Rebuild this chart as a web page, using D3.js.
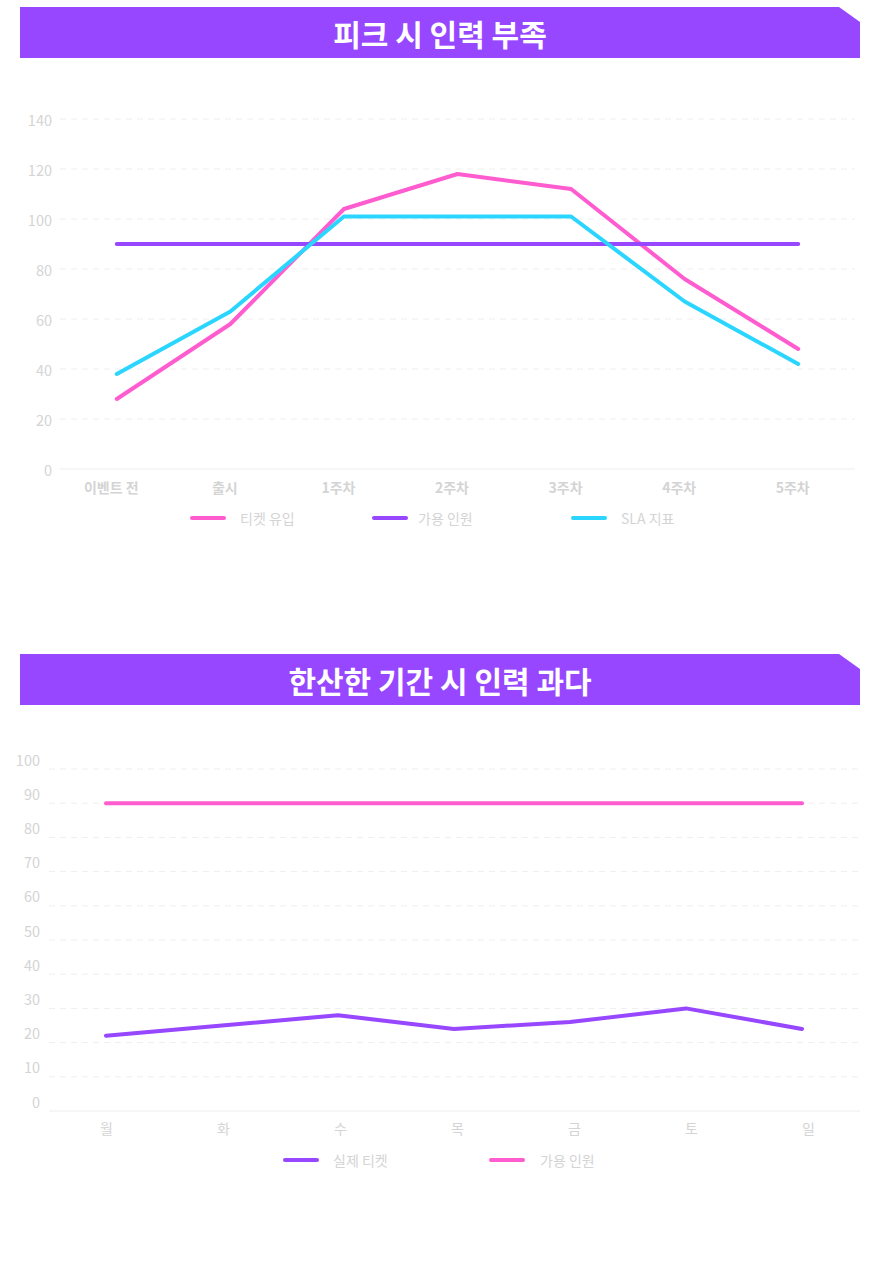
<!DOCTYPE html>
<html>
<head>
<meta charset="utf-8">
<script src="https://cdn.jsdelivr.net/npm/d3@7"></script>
<style>
  body { margin: 0; background: #fff; }
  text { font-family: "Noto Sans CJK KR", "Noto Sans", sans-serif; }
</style>
</head>
<body>
<svg id="chart"></svg>
<script>
// chart 1 data
var peakWeeks = ["이벤트 전", "출시", "1주차", "2주차", "3주차", "4주차", "5주차"];
var ticketsIn = [28, 58, 104, 118, 112, 76, 48];
var staffPeak = [90, 90, 90, 90, 90, 90, 90];
var slaIndex = [38, 63, 101, 101, 101, 67, 42];
var peakTicks = [0, 20, 40, 60, 80, 100, 120, 140];

// chart 2 data
var weekDays = ["월", "화", "수", "목", "금", "토", "일"];
var realTickets = [22, 25, 28, 24, 26, 30, 24];
var staffQuiet = [90, 90, 90, 90, 90, 90, 90];
var quietTicks = [0, 10, 20, 30, 40, 50, 60, 70, 80, 90, 100];

var PINK = "#ff5cd0", PURPLE = "#9747ff", CYAN = "#2ad6ff";
var GRID = "#eeeeee", LABEL = "#d4d4d4";

var svg = d3.select("#chart")
    .attr("width", 885)
    .attr("height", 1275);

// header bar with the cut top-right corner
function header(top, title) {
  var path = d3.path();
  path.moveTo(20, top);
  path.lineTo(839, top);
  path.lineTo(860, top + 15);
  path.lineTo(860, top + 51);
  path.lineTo(20, top + 51);
  path.closePath();
  svg.append("path").attr("d", path.toString()).attr("fill", PURPLE);
  svg.append("text")
      .attr("x", 440)
      .attr("y", top + 26)
      .attr("text-anchor", "middle")
      .attr("dominant-baseline", "central")
      .attr("fill", "#fff")
      .attr("font-size", 30)
      .attr("font-weight", "bold")
      .text(title);
}

function lineChart(opt) {
  var x = d3.scalePoint().domain(opt.cats).range(opt.xRange).padding(0.5);
  var y = d3.scaleLinear().domain([0, opt.max]).range(opt.yRange);
  var g = svg.append("g");

  // gridlines
  g.selectAll(".grid")
      .data(opt.ticks)
      .enter().append("line")
      .attr("x1", opt.gridX[0])
      .attr("x2", opt.gridX[1])
      .attr("y1", function(d) { return y(d); })
      .attr("y2", function(d) { return y(d); })
      .attr("stroke", GRID)
      .attr("stroke-width", 1)
      .attr("stroke-dasharray", function(d) { return d === 0 ? null : "6,5"; });

  // y labels
  g.selectAll(".ylab")
      .data(opt.ticks)
      .enter().append("text")
      .attr("x", opt.yLabelX)
      .attr("y", function(d) { return y(d) + opt.yLabelDy; })
      .attr("text-anchor", "end")
      .attr("dominant-baseline", "central")
      .attr("fill", LABEL)
      .attr("font-size", 14.5)
      .text(function(d) { return d; });

  // x labels
  var xAxis = d3.axisBottom(x).tickSize(0).tickPadding(0);
  var ax = g.append("g")
      .attr("transform", "translate(0," + opt.xLabelY + ")")
      .call(xAxis);
  ax.select(".domain").remove();
  ax.selectAll("text")
      .attr("y", 0)
      .attr("dy", null)
      .attr("dx", function(d, i) { return opt.xLabelDx(i); })
      .attr("dominant-baseline", "central")
      .attr("fill", LABEL)
      .attr("font-size", 14)
      .attr("font-weight", opt.xWeight)
      .style("font-family", '"Noto Sans CJK KR", sans-serif');

  var line = d3.line()
      .x(function(d, i) { return x(opt.cats[i]); })
      .y(function(d) { return y(d); });

  opt.series.forEach(function(s) {
    g.append("path")
        .datum(s.values)
        .attr("d", line)
        .attr("fill", "none")
        .attr("stroke", s.color)
        .attr("stroke-width", 4)
        .attr("stroke-linecap", "round")
        .attr("stroke-linejoin", "round");
  });

  // legend
  opt.series.forEach(function(s, i) {
    var lx = opt.legendX[i];
    g.append("line")
        .attr("x1", lx).attr("x2", lx + 32)
        .attr("y1", opt.legendY).attr("y2", opt.legendY)
        .attr("stroke", s.color)
        .attr("stroke-width", 4)
        .attr("stroke-linecap", "round");
    g.append("text")
        .attr("x", lx + s.gap)
        .attr("y", opt.legendY)
        .attr("dominant-baseline", "central")
        .attr("fill", LABEL)
        .attr("font-size", 14)
        .text(s.name);
  });
}

header(7, "피크 시 인력 부족");
lineChart({
  cats: peakWeeks,
  max: 140,
  ticks: peakTicks,
  xRange: [60, 855],
  yRange: [469, 119],
  gridX: [60, 855],
  yLabelX: 52,
  yLabelDy: 0,
  xLabelY: 487,
  xLabelDx: function(i) { return -6; },
  xWeight: "bold",
  legendY: 518,
  legendX: [192, 374, 573],
  series: [
    { name: "티켓 유입", values: ticketsIn, color: PINK, gap: 48 },
    { name: "가용 인원", values: staffPeak, color: PURPLE, gap: 44 },
    { name: "SLA 지표", values: slaIndex, color: CYAN, gap: 48 }
  ]
});

header(654, "한산한 기간 시 인력 과다");
lineChart({
  cats: weekDays,
  max: 100,
  ticks: quietTicks,
  xRange: [48, 860],
  yRange: [1111, 769],
  gridX: [49, 860],
  yLabelX: 40,
  yLabelDy: -10,
  xLabelY: 1128,
  xLabelDx: function(i) { return i; },
  xWeight: "normal",
  legendY: 1160,
  legendX: [285, 491],
  series: [
    { name: "실제 티켓", values: realTickets, color: PURPLE, gap: 48 },
    { name: "가용 인원", values: staffQuiet, color: PINK, gap: 49 }
  ]
});
</script>
</body>
</html>
